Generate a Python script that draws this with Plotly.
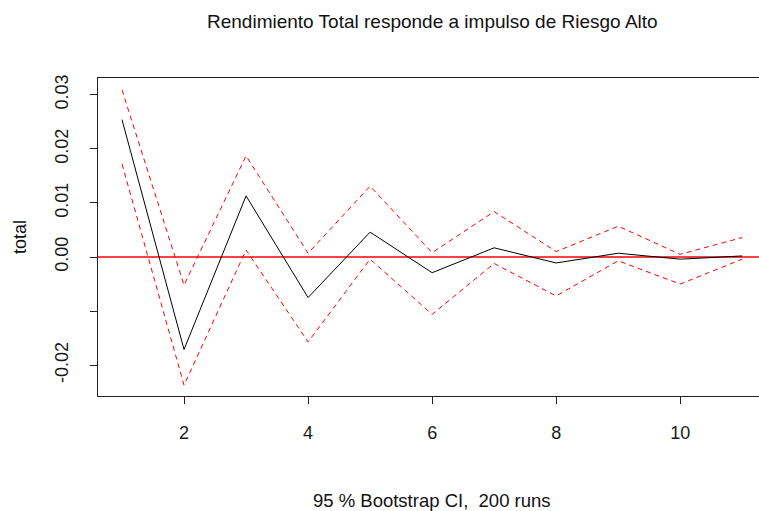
import plotly.graph_objects as go

steps = [1, 2, 3, 4, 5, 6, 7, 8, 9, 10, 11]
irf = [0.0254, -0.0171, 0.0113, -0.0075, 0.0046, -0.0029, 0.0017, -0.0011, 0.0007, -0.0004, 0.0002]
upper = [0.0309, -0.0052, 0.0187, 0.0007, 0.0131, 0.0008, 0.0084, 0.0010, 0.0057, 0.0005, 0.0036]
lower = [0.0172, -0.0237, 0.0013, -0.0157, -0.0004, -0.0106, -0.0012, -0.0072, -0.0007, -0.0050, -0.0004]

ytick_vals = [-0.02, -0.01, 0.0, 0.01, 0.02, 0.03]
ytick_text = ["-0.02", "", "0.00", "0.01", "0.02", "0.03"]
xtick_vals = [2, 4, 6, 8, 10]

title_text = "Rendimiento Total responde a impulso de Riesgo Alto"
xlab_text = "95 % Bootstrap CI,  200 runs"
ylab_text = "total"

fig = go.Figure()
fig.add_trace(go.Scatter(x=[0.0, 12.0], y=[0, 0], mode="lines",
                         line=dict(color="#FF0000", width=1.3), hoverinfo="skip"))
fig.add_trace(go.Scatter(x=steps, y=upper, mode="lines",
                         line=dict(color="#FF0000", width=1, dash="5px,4px")))
fig.add_trace(go.Scatter(x=steps, y=lower, mode="lines",
                         line=dict(color="#FF0000", width=1, dash="5px,4px")))
fig.add_trace(go.Scatter(x=steps, y=irf, mode="lines",
                         line=dict(color="#000000", width=1)))

font = "Liberation Sans, Arial, sans-serif"
fig.update_layout(
    width=759, height=511,
    margin=dict(l=98, r=0, t=78, b=115),
    paper_bgcolor="white", plot_bgcolor="white",
    showlegend=False,
    font=dict(family=font, size=18, color="#1a1a1a"),
    xaxis=dict(range=[0.613, 11.27], tickvals=xtick_vals, showgrid=False, zeroline=False,
               showline=True, linecolor="#222222", linewidth=1.2, mirror=True,
               ticks="outside", ticklen=7, tickcolor="#222222", ticklabelstandoff=13,
               tickfont=dict(size=18)),
    yaxis=dict(range=[-0.0257, 0.0331], tickvals=ytick_vals, ticktext=ytick_text,
               showgrid=False, zeroline=False, showline=True, linecolor="#222222",
               linewidth=1.2, ticks="outside", ticklen=7, tickcolor="#222222",
               tickangle=-90, ticklabelstandoff=15, tickfont=dict(size=18)),
    annotations=[
        dict(text=title_text, xref="x", yref="paper", x=6, y=1, yshift=57,
             showarrow=False, xanchor="center", yanchor="middle",
             font=dict(size=19, color="#111111")),
        dict(text=xlab_text, xref="x", yref="paper", x=6, y=0, yshift=-104,
             showarrow=False, xanchor="center", yanchor="middle",
             font=dict(size=18.5, color="#111111")),
        dict(text=ylab_text, xref="paper", yref="paper", x=0, y=0.5, xshift=-78,
             showarrow=False, textangle=-90, xanchor="center", yanchor="middle",
             font=dict(size=18, color="#111111")),
    ],
)

fig.write_html("out.html", config={"displayModeBar": False},
               post_script="document.body.style.margin='0';document.body.style.overflow='hidden';")
